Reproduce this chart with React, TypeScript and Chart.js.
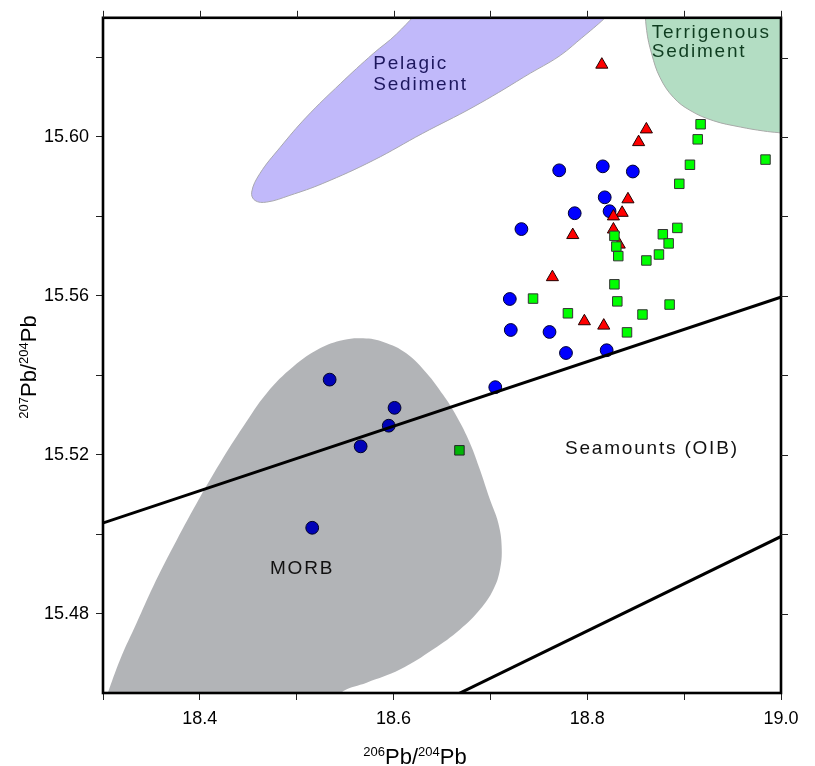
import React, { useEffect, useRef } from "react";
import { Chart, registerables } from "chart.js";

Chart.register(...registerables);

// ---- axes ----
const X_MIN = 18.3;
const X_MAX = 19.0;
const Y_MIN = 15.46;
const Y_MAX = 15.63;
const xMajorTicks = [18.4, 18.6, 18.8, 19.0];
const xMinorTicks = [18.3, 18.5, 18.7, 18.9];
const yMajorTicks = [15.48, 15.52, 15.56, 15.6];
const yMinorTicks = [15.5, 15.54, 15.58, 15.62];

// ---- data: blue circles ----
const circleX = [18.771, 18.816, 18.847, 18.818, 18.787, 18.823, 18.732, 18.72, 18.721, 18.761, 18.778, 18.82, 18.705, 18.534, 18.601, 18.595, 18.566, 18.516];
const circleY = [15.5916, 15.5926, 15.5913, 15.5848, 15.5808, 15.5813, 15.5768, 15.5592, 15.5514, 15.5509, 15.5456, 15.5463, 15.537, 15.5389, 15.5318, 15.5273, 15.5221, 15.5016];

// ---- data: red triangles ----
const triangleX = [18.815, 18.861, 18.853, 18.842, 18.836, 18.827, 18.827, 18.833, 18.785, 18.764, 18.797, 18.817];
const triangleY = [15.6182, 15.6019, 15.5987, 15.5843, 15.5809, 15.58, 15.5767, 15.5729, 15.5753, 15.5647, 15.5536, 15.5525];

// ---- data: green squares ----
const squareX = [18.917, 18.914, 18.906, 18.984, 18.895, 18.893, 18.878, 18.884, 18.874, 18.861, 18.828, 18.83, 18.832, 18.828, 18.831, 18.885, 18.744, 18.78, 18.857, 18.841, 18.668];
const squareY = [15.6032, 15.5994, 15.593, 15.5943, 15.5882, 15.5771, 15.5755, 15.5732, 15.5704, 15.5689, 15.5751, 15.5724, 15.57, 15.5629, 15.5586, 15.5578, 15.5593, 15.5556, 15.5553, 15.5508, 15.5211];

// ---- field outlines ----
const pelagicX = [18.638, 18.603, 18.579, 18.545, 18.51, 18.483, 18.462, 18.4535, 18.457, 18.469, 18.493, 18.527, 18.579, 18.63, 18.682, 18.734, 18.785, 18.827, 18.638];
const pelagicY = [15.635, 15.6259, 15.621, 15.6134, 15.605, 15.5974, 15.5908, 15.5861, 15.584, 15.5836, 15.5853, 15.5883, 15.5941, 15.6009, 15.6075, 15.615, 15.623, 15.635, 15.635];

const terrX = [18.859, 18.8613, 18.8665, 18.875, 18.8888, 18.906, 18.93, 18.958, 18.982, 18.997, 19.01, 19.01, 18.859];
const terrY = [15.635, 15.6268, 15.6209, 15.615, 15.61, 15.6067, 15.6041, 15.6025, 15.6015, 15.6011, 15.6009, 15.635, 15.635];

const morbX = [18.302, 18.3176, 18.3348, 18.3519, 18.3726, 18.3967, 18.4208, 18.4448, 18.469, 18.4965, 18.524, 18.5481, 18.5687, 18.5894, 18.6135, 18.6342, 18.6513, 18.6652, 18.6789, 18.6892, 18.6995, 18.7081, 18.7116, 18.7099, 18.7029, 18.6892, 18.6686, 18.641, 18.6066, 18.5722, 18.5481, 18.54, 18.302];
const morbY = [15.458, 15.4684, 15.4777, 15.4869, 15.4969, 15.5078, 15.5179, 15.5271, 15.5355, 15.5422, 15.5468, 15.5489, 15.5493, 15.5484, 15.5455, 15.5405, 15.535, 15.5296, 15.5229, 15.5162, 15.5087, 15.5028, 15.4969, 15.4911, 15.486, 15.481, 15.476, 15.471, 15.4659, 15.4626, 15.4605, 15.458, 15.458];

// ---- reference lines ----
const line1X = [18.29, 19.01];
const line1Y = [15.502, 15.5605];
const line2X = [18.6266, 19.01];
const line2Y = [15.455, 15.5006];

// ---- text labels (anchor in data units) ----
const regionLabelText = ["Pelagic", "Sediment", "Terrigenous", "Sediment", "Seamounts (OIB)", "MORB"];
const regionLabelX = [18.579, 18.579, 18.8665, 18.8665, 18.777, 18.4724];
const regionLabelY = [15.6171, 15.6117, 15.6248, 15.6201, 15.5202, 15.49];
const regionLabelColor = ["#1d175e", "#1d175e", "#0f3d20", "#0f3d20", "#111111", "#111111"];

const FONT = '"Liberation Sans", Arial, Helvetica, sans-serif';

const zip = (xs: number[], ys: number[]) => xs.map((x, i) => ({ x, y: ys[i] }));
const near = (a: number, b: number) => Math.abs(a - b) < 1e-6;

const framePlugin = {
  id: "frameAndText",
  afterDatasetsDraw(chart: any) {
    const { ctx, scales } = chart;
    const xs = scales.x;
    const ys = scales.y;
    ctx.save();
    ctx.font = `19px ${FONT}`;
    (ctx as any).letterSpacing = "1.8px";
    ctx.textAlign = "left";
    ctx.textBaseline = "alphabetic";
    regionLabelText.forEach((t, i) => {
      ctx.fillStyle = regionLabelColor[i];
      ctx.fillText(t, xs.getPixelForValue(regionLabelX[i]), ys.getPixelForValue(regionLabelY[i]));
    });
    ctx.restore();
  },
  afterDraw(chart: any) {
    const { ctx, chartArea: a, scales } = chart;
    const xs = scales.x;
    const ys = scales.y;
    ctx.save();
    // frame
    ctx.strokeStyle = "#000";
    ctx.lineWidth = 2.6;
    ctx.strokeRect(a.left, a.top, a.right - a.left, a.bottom - a.top);
    // mirrored ticks (top and right)
    ctx.lineWidth = 1;
    ctx.strokeStyle = "#222";
    ctx.beginPath();
    xs.ticks.forEach((t: any) => {
      const p = Math.round(xs.getPixelForValue(t.value)) + 0.5;
      ctx.moveTo(p, a.top);
      ctx.lineTo(p, a.top - 7);
    });
    ys.ticks.forEach((t: any) => {
      const p = Math.round(ys.getPixelForValue(t.value)) + 0.5;
      ctx.moveTo(a.right, p);
      ctx.lineTo(a.right + 7, p);
    });
    ctx.stroke();

    // axis titles with superscripts
    const drawTitle = (sup1: string, sup2: string) => {
      const big = `22px ${FONT}`;
      const small = `13px ${FONT}`;
      const parts: [string, string, number][] = [
        [sup1, small, -8],
        ["Pb/", big, 0],
        [sup2, small, -8],
        ["Pb", big, 0],
      ];
      let w = 0;
      parts.forEach(([t, f]) => {
        ctx.font = f;
        w += ctx.measureText(t).width;
      });
      let x = -w / 2;
      parts.forEach(([t, f, dy]) => {
        ctx.font = f;
        ctx.fillText(t, x, dy);
        x += ctx.measureText(t).width;
      });
    };
    ctx.fillStyle = "#000";
    ctx.textAlign = "left";
    ctx.textBaseline = "alphabetic";
    ctx.save();
    ctx.translate(415, 764);
    drawTitle("206", "204");
    ctx.restore();
    ctx.save();
    ctx.translate(36, 367);
    ctx.rotate(-Math.PI / 2);
    drawTitle("207", "204");
    ctx.restore();
    ctx.restore();
  },
};

export default function App() {
  const ref = useRef<HTMLCanvasElement>(null);
  useEffect(() => {
    if (!ref.current) return;
    const pointBase = { showLine: false, pointBorderWidth: 1, pointHoverRadius: 6.5 };
    const chart = new Chart(ref.current, {
      type: "scatter",
      data: {
        datasets: [
          {
            type: "line",
            label: "line1",
            data: zip(line1X, line1Y),
            borderColor: "#000",
            borderWidth: 3,
            pointRadius: 0,
            fill: false,
            order: 0,
          } as any,
          {
            type: "line",
            label: "line2",
            data: zip(line2X, line2Y),
            borderColor: "#000",
            borderWidth: 3,
            pointRadius: 0,
            fill: false,
            order: 0,
          } as any,
          {
            type: "line",
            label: "MORB",
            data: zip(morbX, morbY),
            borderWidth: 0,
            borderColor: "rgba(0,0,0,0)",
            backgroundColor: "rgba(0,5,15,0.3)",
            pointRadius: 0,
            fill: "shape",
            tension: 0.4,
            order: 1,
          } as any,
          {
            ...pointBase,
            label: "squares",
            data: zip(squareX, squareY),
            pointStyle: "rect",
            pointRadius: 6.7,
            backgroundColor: "#00ff00",
            pointBackgroundColor: "#00ff00",
            borderColor: "#333",
            pointBorderColor: "#333",
            order: 2,
          } as any,
          {
            ...pointBase,
            label: "triangles",
            data: zip(triangleX, triangleY),
            pointStyle: "triangle",
            pointRadius: 7,
            backgroundColor: "#ff0000",
            pointBackgroundColor: "#ff0000",
            borderColor: "#220000",
            pointBorderColor: "#220000",
            order: 3,
          } as any,
          {
            ...pointBase,
            label: "circles",
            data: zip(circleX, circleY),
            pointStyle: "circle",
            pointRadius: 6.4,
            backgroundColor: "#0000ff",
            pointBackgroundColor: "#0000ff",
            borderColor: "#000030",
            pointBorderColor: "#000030",
            order: 4,
          } as any,
          {
            type: "line",
            label: "Pelagic",
            data: zip(pelagicX, pelagicY),
            borderWidth: 1,
            borderColor: "#a9a9b0",
            backgroundColor: "#c1b9fa",
            pointRadius: 0,
            fill: "shape",
            tension: 0.4,
            order: 10,
          } as any,
          {
            type: "line",
            label: "Terrigenous",
            data: zip(terrX, terrY),
            borderWidth: 1,
            borderColor: "#a9aaa9",
            backgroundColor: "#b3ddc3",
            pointRadius: 0,
            fill: "shape",
            tension: 0.4,
            order: 10,
          } as any,
        ],
      },
      options: {
        responsive: false,
        animation: false,
        events: [],
        layout: { padding: { top: 16, right: 34, left: 0, bottom: 0 } },
        plugins: {
          legend: { display: false },
          tooltip: { enabled: false },
          title: { display: false },
        },
        scales: {
          x: {
            type: "linear",
            position: "bottom",
            min: X_MIN,
            max: X_MAX,
            afterBuildTicks: (s: any) => {
              s.ticks = [...xMinorTicks, ...xMajorTicks].sort((p, q) => p - q).map((v) => ({ value: v }));
            },
            afterFit: (s: any) => {
              s.height = 73;
            },
            ticks: {
              autoSkip: false,
              maxRotation: 0,
              padding: 8,
              color: "#000",
              font: { family: FONT, size: 18 },
              callback: (v: any) => {
                const n = Number(v);
                return xMajorTicks.some((m) => near(m, n)) ? n.toFixed(1) : "";
              },
            },
            grid: { drawOnChartArea: false, drawTicks: true, tickLength: 7, color: "#222", lineWidth: 1 },
            border: { display: false },
          },
          y: {
            type: "linear",
            position: "left",
            min: Y_MIN,
            max: Y_MAX,
            afterBuildTicks: (s: any) => {
              s.ticks = [...yMinorTicks, ...yMajorTicks].sort((p, q) => p - q).map((v) => ({ value: v }));
            },
            afterFit: (s: any) => {
              s.width = 103;
            },
            ticks: {
              autoSkip: false,
              padding: 7,
              color: "#000",
              font: { family: FONT, size: 18 },
              callback: (v: any) => {
                const n = Number(v);
                return yMajorTicks.some((m) => near(m, n)) ? n.toFixed(2) : "";
              },
            },
            grid: { drawOnChartArea: false, drawTicks: true, tickLength: 7, color: "#222", lineWidth: 1 },
            border: { display: false },
          },
        },
      } as any,
      plugins: [framePlugin],
    });
    return () => chart.destroy();
  }, []);
  return (
    <div style={{ position: "absolute", left: 0, top: 0, width: 815, height: 766, background: "#fff" }}>
      <canvas ref={ref} width={815} height={766} style={{ display: "block", width: 815, height: 766 }} />
    </div>
  );
}
